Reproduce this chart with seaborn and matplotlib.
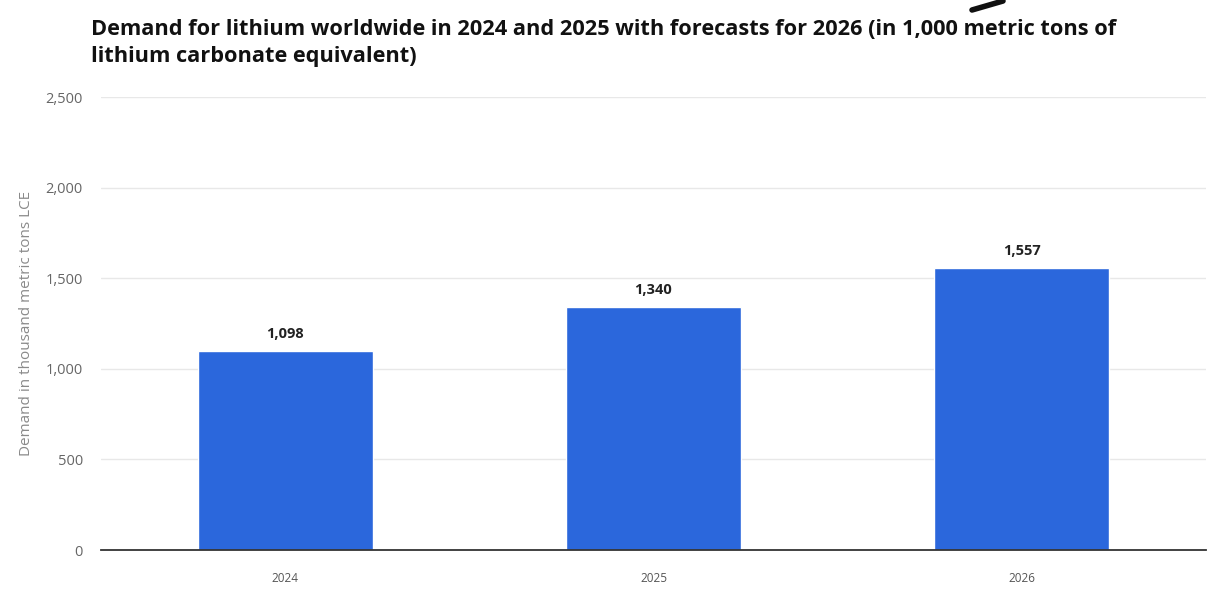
#!/usr/bin/env python3

import pandas as pd
import seaborn as sns
from matplotlib import pyplot as plt
from matplotlib import ticker as plticker
from matplotlib.lines import Line2D

years = ['2024', '2025', '2026']
demand = [1098, 1340, 1557]
y_ticks = [0, 500, 1000, 1500, 2000, 2500]

title = ('Demand for lithium worldwide in 2024 and 2025 with forecasts for 2026 '
         '(in 1,000 metric tons of\nlithium carbonate equivalent)')
y_label = 'Demand in thousand metric tons LCE'

BAR_COLOR = '#2b67dc'


def main():
    df = pd.DataFrame({'year': years, 'demand': demand})

    sns.set_theme(style='white')
    plt.rcParams['font.family'] = ['Open Sans', 'DejaVu Sans']

    fig = plt.figure(figsize=(12.2, 5.99), dpi=100)
    ax = fig.add_axes([0.0828, 0.0818, 0.9057, 0.7562])

    sns.barplot(data=df, x='year', y='demand', color=BAR_COLOR,
                width=0.475, saturation=1, ax=ax)

    ax.set_xlim(-0.5, 2.5)
    ax.set_ylim(0, 2500)
    ax.set_yticks(y_ticks)
    ax.yaxis.set_major_formatter(
        plticker.FuncFormatter(lambda v, _: f'{int(v):,}'))
    ax.grid(axis='y', color='#e8e8e8', linewidth=1)
    ax.set_axisbelow(True)

    for side in ('top', 'right', 'left'):
        ax.spines[side].set_visible(False)
    ax.spines['bottom'].set_color('#333333')
    ax.spines['bottom'].set_linewidth(1.3)

    ax.tick_params(axis='y', length=0, pad=13, labelsize=10.5,
                   labelcolor='#666666')
    ax.tick_params(axis='x', length=0, pad=16, labelsize=8.5,
                   labelcolor='#555555')
    ax.set_xlabel('')
    ax.set_ylabel(y_label, fontsize=11, color='#8a8a8a', labelpad=8)

    for i, v in enumerate(demand):
        ax.annotate(f'{v:,}', (i, v), xytext=(0, 7),
                    textcoords='offset points', ha='center', va='bottom',
                    fontsize=10.5, fontweight='bold', color='#222222')

    fig.text(0.0746, 0.968, title, ha='left', va='top', fontsize=15.7,
             fontweight='bold', color='#111111', linespacing=1.35)

    # stray pen stroke in the upper right of the source image
    fig.add_artist(Line2D([972 / 1220, 1003 / 1220],
                          [1 - 10 / 599, 1 - 1 / 599],
                          transform=fig.transFigure, color='#111111',
                          linewidth=4, solid_capstyle='round'))

    fig.savefig('out.png', dpi=100)
    plt.close(fig)


if __name__ == '__main__':
    main()
